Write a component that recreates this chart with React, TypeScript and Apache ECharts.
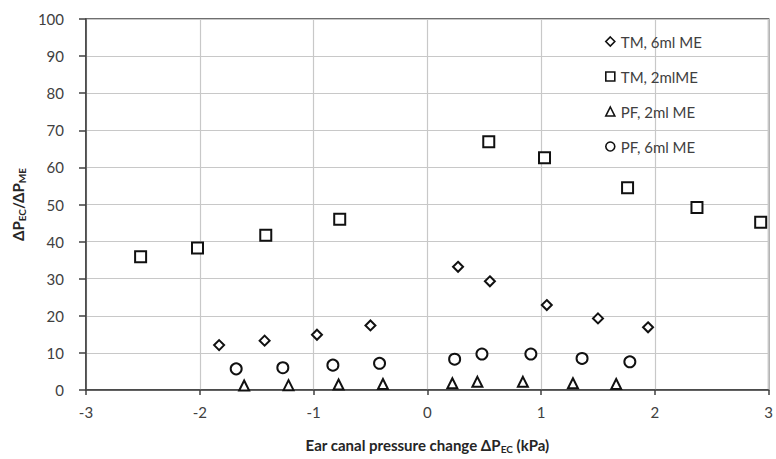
import React, { useEffect, useRef } from "react";
import * as echarts from "echarts";

const tm6X = [-1.83, -1.43, -0.97, -0.5, 0.27, 0.55, 1.05, 1.5, 1.94];
const tm6Y = [12.1, 13.3, 14.9, 17.4, 33.2, 29.3, 22.9, 19.3, 16.9];
const tm2X = [-2.52, -2.02, -1.42, -0.77, 0.54, 1.03, 1.76, 2.37, 2.93];
const tm2Y = [35.9, 38.3, 41.7, 46.0, 66.9, 62.6, 54.5, 49.2, 45.2];
const pf2X = [-1.61, -1.22, -0.78, -0.39, 0.22, 0.44, 0.84, 1.28, 1.66];
const pf2Y = [1.2, 1.3, 1.5, 1.6, 1.8, 2.2, 2.2, 1.8, 1.6];
const pf6X = [-1.68, -1.27, -0.83, -0.42, 0.24, 0.48, 0.91, 1.36, 1.78];
const pf6Y = [5.7, 6.0, 6.7, 7.2, 8.3, 9.7, 9.7, 8.5, 7.6];

const seriesNames = ["TM, 6ml ME", "TM, 2mlME", "PF, 2ml ME", "PF, 6ml ME"];
const xTicks = { min: -3, max: 3, interval: 1 };
const yTicks = { min: 0, max: 100, interval: 10 };

const zip = (xs: number[], ys: number[]) => xs.map((x, i) => [x, ys[i]]);

export default function App() {
  const ref = useRef<HTMLDivElement>(null);
  useEffect(() => {
    if (!ref.current) return;
    const chart = echarts.init(ref.current, null, { renderer: "svg" });
    const font = "Lato, 'Open Sans', sans-serif";
    const textColor = "#404040";
    const axisColor = "#404040";
    const mk = (name: string, symbol: string, size: number, data: number[][]) => ({
      name,
      type: "scatter",
      symbol,
      symbolSize: size,
      data,
      itemStyle: { color: "#ffffff", borderColor: "#111111", borderWidth: 2, opacity: 1 },
      emphasis: { disabled: true },
    });
    chart.setOption({
      animation: false,
      backgroundColor: "#ffffff",
      textStyle: { fontFamily: font },
      grid: {
        left: 86,
        right: 6,
        top: 19,
        bottom: 69,
        show: true,
        borderColor: axisColor,
        borderWidth: 1.5,
        backgroundColor: "transparent",
      },
      legend: {
        orient: "vertical",
        left: 600,
        top: 29,
        itemWidth: 9,
        itemHeight: 9,
        itemGap: 20,
        data: seriesNames,
        itemStyle: { borderWidth: 1.6 },
        textStyle: { fontFamily: font, fontSize: 15, color: textColor, padding: [0, 0, 0, 1] },
        backgroundColor: "transparent",
      },
      xAxis: {
        type: "value",
        min: xTicks.min,
        max: xTicks.max,
        interval: xTicks.interval,
        axisLine: { show: true, onZero: false, lineStyle: { color: axisColor, width: 1.5 } },
        axisTick: { show: true, inside: false, length: 5, lineStyle: { color: axisColor, width: 1.5 } },
        axisLabel: { color: textColor, fontSize: 15, fontFamily: font, margin: 14 },
        splitLine: { show: true, lineStyle: { color: "#c8c8c8", width: 1.2 } },
        name: "Ear canal pressure change \u0394P{sub|EC} (kPa)",
        nameLocation: "middle",
        nameGap: 46,
        nameTextStyle: {
          fontFamily: font,
          fontSize: 15,
          fontWeight: "bold",
          color: "#262626",
          rich: {
            sub: { fontFamily: font, fontSize: 10, fontWeight: "bold", color: "#262626", padding: [8, 0, 0, 0] },
          },
        },
      },
      yAxis: {
        type: "value",
        min: yTicks.min,
        max: yTicks.max,
        interval: yTicks.interval,
        axisLine: { show: true, onZero: false, lineStyle: { color: axisColor, width: 1.5 } },
        axisTick: { show: true, inside: false, length: 7, lineStyle: { color: axisColor, width: 1.5 } },
        axisLabel: { color: textColor, fontSize: 15, fontFamily: font, margin: 22 },
        splitLine: { show: true, lineStyle: { color: "#c8c8c8", width: 1.2 } },
        name: "\u0394P{sub|EC}/\u0394P{sub|ME}",
        nameLocation: "middle",
        nameRotate: 90,
        nameGap: 56,
        nameTextStyle: {
          fontFamily: font,
          fontSize: 15,
          fontWeight: "bold",
          color: "#262626",
          rich: {
            sub: { fontFamily: font, fontSize: 10, fontWeight: "bold", color: "#262626", padding: [8, 0, 0, 0] },
          },
        },
      },
      series: [
        mk(seriesNames[0], "diamond", 10, zip(tm6X, tm6Y)),
        mk(seriesNames[1], "rect", 11, zip(tm2X, tm2Y)),
        mk(seriesNames[2], "triangle", 10, zip(pf2X, pf2Y)),
        mk(seriesNames[3], "circle", 11, zip(pf6X, pf6Y)),
      ],
    });
    return () => chart.dispose();
  }, []);
  return (
    <div
      ref={ref}
      style={{ position: "absolute", left: 0, top: 0, width: 776, height: 459 }}
    />
  );
}
